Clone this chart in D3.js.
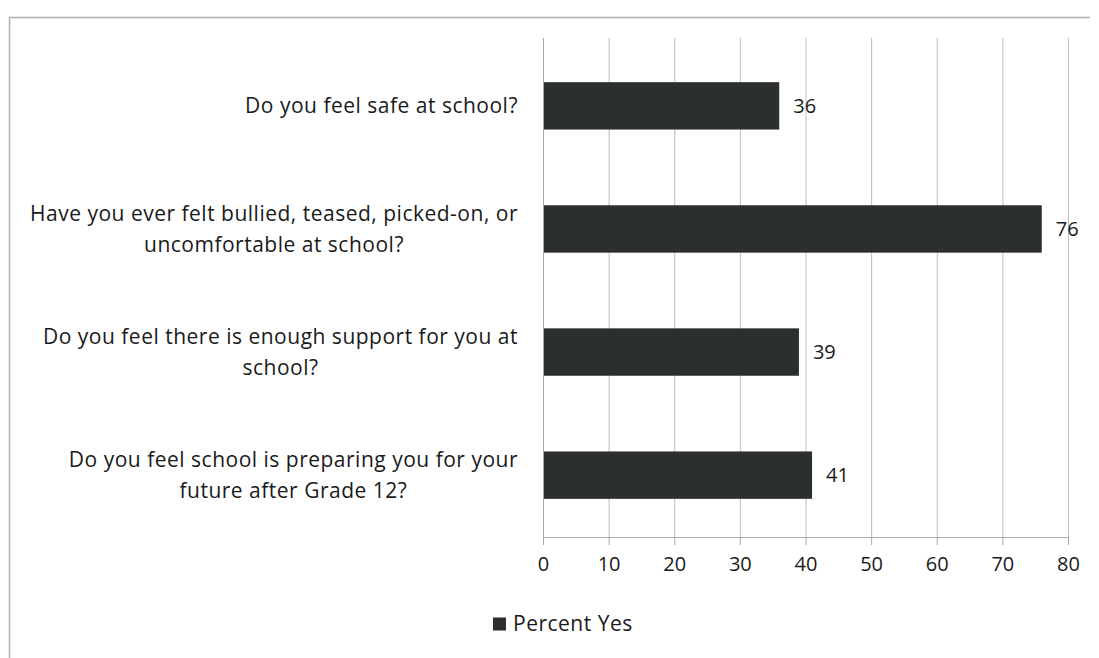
<!DOCTYPE html>
<html>
<head>
<meta charset="utf-8">
<script src="https://cdn.jsdelivr.net/npm/d3@7"></script>
<style>
  html, body { margin: 0; padding: 0; background: #fff; }
  svg { display: block; }
  text { font-family: "Open Sans", Lato, sans-serif; fill: #1a1a1a; }
</style>
</head>
<body>
<svg id="chart" width="1099" height="658"></svg>
<script>
// Survey questions (each inner array is one wrapped label) and percent answering yes
const questions = [
  ["Do you feel safe at school?"],
  ["Have you ever felt bullied, teased, picked-on, or", "uncomfortable at school?"],
  ["Do you feel there is enough support for you at", "school?"],
  ["Do you feel school is preparing you for your", "future after Grade 12?"]
];
const percentYes = [36, 76, 39, 41];
const xTicks = [0, 10, 20, 30, 40, 50, 60, 70, 80];
const seriesName = "Percent Yes";

const svg = d3.select("#chart");
const W = 1099, H = 658;
const plot = { left: 543, right: 1068, top: 38, bottom: 537 };
const barColor = "#2c302d";
const gridColor = "#bdbdbd";
const fontSize = 21;
const spacing = "0.5px";

// outer frame of the chart area
svg.append("path")
  .attr("d", `M9.5,${H} V17.5 H1090`)
  .attr("fill", "none")
  .attr("stroke", "#b0b0b0")
  .attr("stroke-width", 1.5);

const x = d3.scaleLinear().domain([0, 80]).range([plot.left, plot.right]);
const y = d3.scaleBand()
  .domain(d3.range(questions.length))
  .range([plot.top + 6, plot.bottom])
  .paddingInner(0.615)
  .paddingOuter(0.31);

// vertical gridlines
svg.append("g")
  .selectAll("line")
  .data(xTicks)
  .join("line")
  .attr("x1", d => x(d) + 0.5).attr("x2", d => x(d) + 0.5)
  .attr("y1", plot.top).attr("y2", plot.bottom)
  .attr("stroke", gridColor).attr("stroke-width", 1);

// bottom axis with ticks
const xAxis = d3.axisBottom(x).tickValues(xTicks).tickSize(8).tickPadding(12).tickSizeOuter(0);
const gx = svg.append("g").attr("transform", `translate(0,${plot.bottom})`).call(xAxis);
gx.select(".domain").attr("stroke", "#a8a8a8");
gx.selectAll(".tick line").attr("stroke", "#a8a8a8");
gx.selectAll(".tick text")
  .attr("font-size", 20)
  .attr("font-family", "'Open Sans', sans-serif")
  .attr("fill", "#1a1a1a");

// left category axis line
svg.append("line")
  .attr("x1", plot.left + 0.5).attr("x2", plot.left + 0.5)
  .attr("y1", plot.top).attr("y2", plot.bottom)
  .attr("stroke", "#a8a8a8");

// bars
svg.append("g")
  .selectAll("rect")
  .data(percentYes)
  .join("rect")
  .attr("x", x(0) + 1)
  .attr("y", (d, i) => y(i))
  .attr("width", d => x(d) - x(0) - 1)
  .attr("height", y.bandwidth())
  .attr("fill", barColor);

// value labels
svg.append("g")
  .selectAll("text")
  .data(percentYes)
  .join("text")
  .attr("x", d => x(d) + 14)
  .attr("y", (d, i) => y(i) + y.bandwidth() / 2)
  .attr("dy", "0.35em")
  .attr("font-size", 20)
  .text(d => d);

// category labels, lines centred within a right-aligned block
const labelRight = 518;
const lineH = 31;
questions.forEach((lines, i) => {
  const cy = y(i) + y.bandwidth() / 2;
  const g = svg.append("g");
  const texts = g.selectAll("text")
    .data(lines)
    .join("text")
    .attr("font-size", fontSize)
    .attr("letter-spacing", spacing)
    .attr("text-anchor", "middle")
    .attr("y", (d, k) => cy + (k - (lines.length - 1) / 2) * lineH)
    .attr("dy", "0.35em")
    .text(d => d);
  const widths = texts.nodes().map(n => n.getComputedTextLength());
  const maxW = d3.max(widths);
  texts.attr("x", labelRight - maxW / 2);
});

// legend
const legend = svg.append("g").attr("transform", "translate(493,624)");
legend.append("rect")
  .attr("x", 0).attr("y", -6.5).attr("width", 13).attr("height", 13)
  .attr("fill", barColor);
legend.append("text")
  .attr("x", 20).attr("dy", "0.35em")
  .attr("font-size", fontSize)
  .attr("letter-spacing", spacing)
  .text(seriesName);
</script>
</body>
</html>
